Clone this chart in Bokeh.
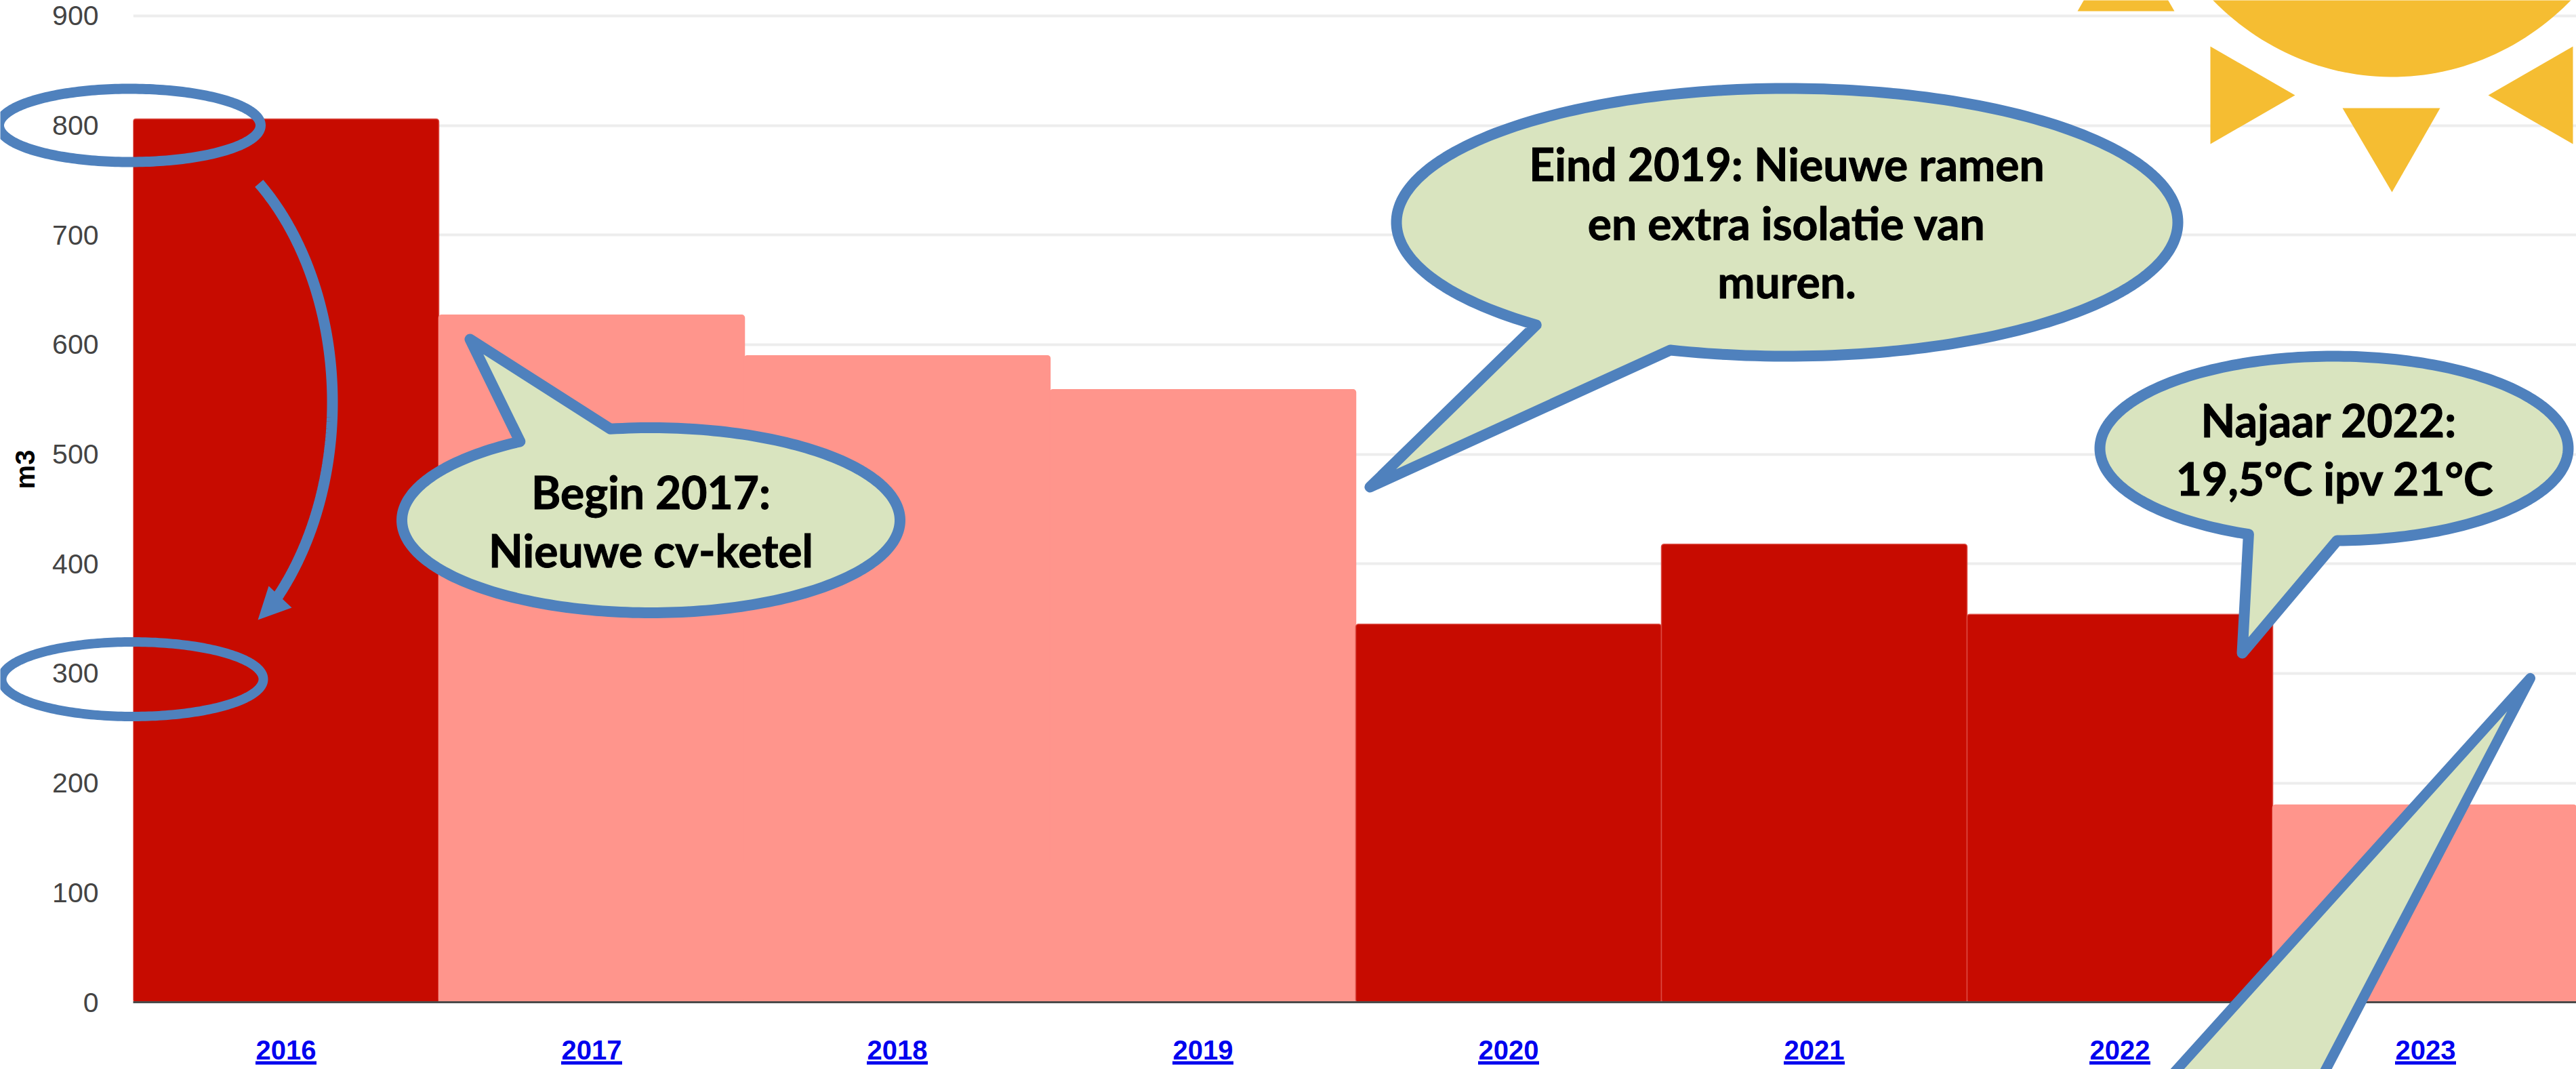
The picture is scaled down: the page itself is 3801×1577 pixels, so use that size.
import numpy as np
from bokeh.plotting import figure
from bokeh.models import Range1d, FixedTicker, NumeralTickFormatter, Label
from bokeh.embed import file_html
from bokeh.resources import INLINE

# ---- data
years = [2016, 2017, 2018, 2019, 2020, 2021, 2022, 2023]
usage_m3 = [806, 627, 590, 559, 345, 418, 354, 180]
bar_colors = ["#C70B00", "#FF958C", "#FF958C", "#FF958C", "#C70B00", "#C70B00", "#C70B00", "#FF958C"]
bar_edges = ["#DC4A42", "#FF958C", "#FF958C", "#FF958C", "#DC4A42", "#DC4A42", "#DC4A42", "#FF958C"]
y_ticks = [0, 100, 200, 300, 400, 500, 600, 700, 800, 900]
y_title = "m3"

callout_texts = [
    ["Begin 2017:", "Nieuwe cv-ketel"],
    ["Eind 2019: Nieuwe ramen", "en extra isolatie van", "muren."],
    ["Najaar 2022:", "19,5°C ipv 21°C"],
]

# ---- layout (pixels of the reference picture)
W, H = 3801, 1577
LEFT, STEP = 196, 451
BASE, PER_UNIT = 1478, 1.6167

BLUE, GREEN, SUN = "#4F81BD", "#D9E4BF", "#F5BD32"

p = figure(width=W, height=H, output_backend="svg", toolbar_location=None,
           x_range=Range1d(years[0] - 0.5, years[0] - 0.5 + (W - LEFT) / STEP),
           y_range=Range1d(0, BASE / PER_UNIT),
           min_border_left=LEFT, min_border_bottom=H - BASE,
           min_border_top=0, min_border_right=0, outline_line_color=None)
p.background_fill_color = "white"
p.border_fill_color = "white"

p.xgrid.visible = False
p.ygrid.grid_line_color = "#EDEDED"
p.ygrid.grid_line_width = 4
p.yaxis.ticker = FixedTicker(ticks=y_ticks)
p.yaxis.axis_line_color = None
p.yaxis.major_tick_line_color = None
p.yaxis.minor_tick_line_color = None
p.yaxis.major_label_standoff = 45
p.yaxis.major_label_text_font = "Liberation Sans"
p.yaxis.major_label_text_font_size = "41px"
p.yaxis.major_label_text_color = "#444444"

p.xaxis.ticker = FixedTicker(ticks=years)
p.xaxis.formatter = NumeralTickFormatter(format="0")
p.xaxis.axis_line_color = "#4A4A4A"
p.xaxis.axis_line_width = 3
p.xaxis.major_tick_line_color = None
p.xaxis.minor_tick_line_color = None
p.xaxis.major_label_standoff = 50
p.xaxis.major_label_text_font = "Liberation Sans"
p.xaxis.major_label_text_font_size = "40px"
p.xaxis.major_label_text_font_style = "bold"
p.xaxis.major_label_text_color = "#0000EE"

p.vbar(x=years, top=usage_m3, width=1.0, bottom=0, fill_color=bar_colors,
       line_color=bar_edges, line_width=1.5, border_radius=4)

# ---- transparent drawing layer for the hand-drawn shapes that overflow the plot area
o = figure(width=W, height=H, output_backend="svg", toolbar_location=None,
           x_range=Range1d(0, W), y_range=Range1d(H, 0),
           min_border=0, outline_line_color=None, x_axis_location=None, y_axis_location=None,
           margin=(-H, 0, 0, 0))
o.background_fill_alpha = 0
o.border_fill_alpha = 0
o.grid.visible = False


def poly(xs, ys, fill=None, line=None, lw=0):
    o.patch(list(xs), list(ys), fill_color=fill or "white", fill_alpha=1 if fill else 0,
            line_color=line or "white", line_alpha=1 if line else 0,
            line_width=lw, line_join="round")


def text(s, x, y, size, color="black", font="Lato", style="bold", angle=0, baseline="alphabetic", outline=None):
    o.add_layout(Label(x=x, y=y, text=s, x_units="data", y_units="data",
                       text_font=font, text_font_size=size, text_font_style=style,
                       text_color=color, text_align="center", text_baseline=baseline,
                       text_outline_color=outline, angle=angle))


def ellipse(cx, cy, a, b, t0=0.0, t1=2 * np.pi, n=240):
    t = np.linspace(t0, t1, n)
    return cx + a * np.cos(t), cy + b * np.sin(t)


def callout(cx, cy, a, b, first, tip, second, lw):
    t0 = np.arctan2((first[1] - cy) / b, (first[0] - cx) / a)
    t1 = np.arctan2((second[1] - cy) / b, (second[0] - cx) / a)
    while t1 < t0:
        t1 += 2 * np.pi
    ex, ey = ellipse(cx, cy, a, b, t0, t1)
    poly(np.r_[ex, tip[0]], np.r_[ey, tip[1]], GREEN, BLUE, lw)


# sun
sx, sy = ellipse(3529, -287, 379, 400)
poly(sx, sy, SUN)
poly([3261, 3261, 3386], [68, 212, 140], SUN)
poly([3796, 3796, 3671], [68, 212, 140], SUN)
poly([3456, 3600, 3529], [159, 159, 283], SUN)
poly([3065, 3208, 3136], [16, 16, -108], SUN)

# circled axis values
ex, ey = ellipse(191, 184.5, 193, 54)
poly(ex, ey, None, BLUE, 15)
ex, ey = ellipse(195, 1001.5, 193, 55)
poly(ex, ey, None, BLUE, 14)

# curved arrow
ang = np.linspace(np.arcsin((270 - 593) / 420), np.arcsin((880 - 593) / 420), 120)
o.line(196 + 300 * np.cos(ang) - 6, 593 + 420 * np.sin(ang), line_color=BLUE, line_width=16)
poly([380, 396, 430], [914, 864, 896], BLUE)

# speech bubbles
callout(960, 767, 367.5, 136.5, (900, 632), (693, 500), (767, 651), 16)
callout(2636.5, 327.5, 576.5, 197.5, (2266, 479), (2021, 718), (2465, 515), 16)
callout(3443.5, 661, 345.5, 136, (3319, 786), (3308, 963), (3448, 798), 16)
poly([3733, 3173, 3409], [1000, 1620, 1620], GREEN, BLUE, 15)

FS = "66px"
for line, x, y in zip(callout_texts[0], [960, 960], [725, 811]):
    text(line, x, y, FS, outline="black")
for line, x, y in zip(callout_texts[1], [2636, 2636, 2636], [241, 328, 414]):
    text(line, x, y, FS, outline="black")
for line, x, y in zip(callout_texts[2], [3436, 3445], [619, 705]):
    text(line, x, y, FS, outline="black")

# axis title, kept off-centre as in the source
text(y_title, 36, 692, "40px", font="Liberation Sans", angle=np.pi / 2, baseline="middle")

# underlined year links
for yr in years:
    c = LEFT + (yr - years[0] + 0.5) * STEP
    poly([c - 45, c + 45, c + 45, c - 45], [1565, 1565, 1570, 1570], "#0000EE")

open("out.html", "w").write(file_html((p, o), INLINE))
